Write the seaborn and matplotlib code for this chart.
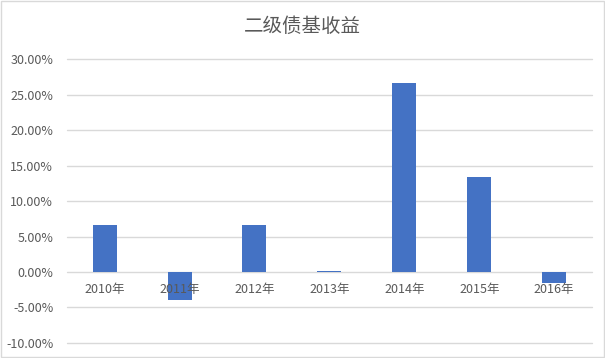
import matplotlib
matplotlib.use("Agg")
import matplotlib.pyplot as plt
import seaborn as sns
import pandas as pd
from matplotlib.ticker import FuncFormatter, MultipleLocator
from matplotlib.patches import Rectangle

years = ["2010年", "2011年", "2012年", "2013年", "2014年", "2015年", "2016年"]
returns = [6.6, -3.9, 6.6, 0.15, 26.6, 13.4, -1.5]
title = "二级债基收益"

sns.set_theme(style="white")
plt.rcParams['font.family'] = ['Noto Sans CJK SC', 'DejaVu Sans']

df = pd.DataFrame({"year": years, "ret": returns})

fig = plt.figure(figsize=(6.05, 3.58), dpi=100)
ax = fig.add_axes([0.111, 0.042, 0.867, 0.793])
sns.barplot(data=df, x="year", y="ret", color="#4472C4", saturation=1, width=0.32,
            linewidth=0, ax=ax, zorder=2)

ax.set_ylim(-10, 30)
ax.yaxis.set_major_locator(MultipleLocator(5))
ax.yaxis.set_major_formatter(FuncFormatter(lambda v, p: f"{v:.2f}%"))
ax.grid(False)
ax.set_axisbelow(False)
for t in ax.get_yticks():
    if -10 <= t <= 30:
        ax.axhline(t, color="#D9D9D9", linewidth=1, zorder=1, clip_on=False)
for s in ["top", "right", "left", "bottom"]:
    ax.spines[s].set_visible(False)
ax.spines["bottom"].set_position(("data", 0))
ax.set_xlabel("")
ax.set_ylabel("")
ax.tick_params(axis="both", length=0, colors="#595959", labelsize=9)
ax.tick_params(axis="x", pad=8)
ax.tick_params(axis="y", pad=10)
ax.set_xlim(-0.5, len(years) - 0.5)

fig.text(0.5, 0.925, title, ha="center", va="center", fontsize=14, color="#595959")
fig.patches.append(Rectangle((0.001, 0.002), 0.997, 0.995, transform=fig.transFigure,
                             fill=False, edgecolor="#D9D9D9", linewidth=1))
fig.savefig("out.png", dpi=100)
